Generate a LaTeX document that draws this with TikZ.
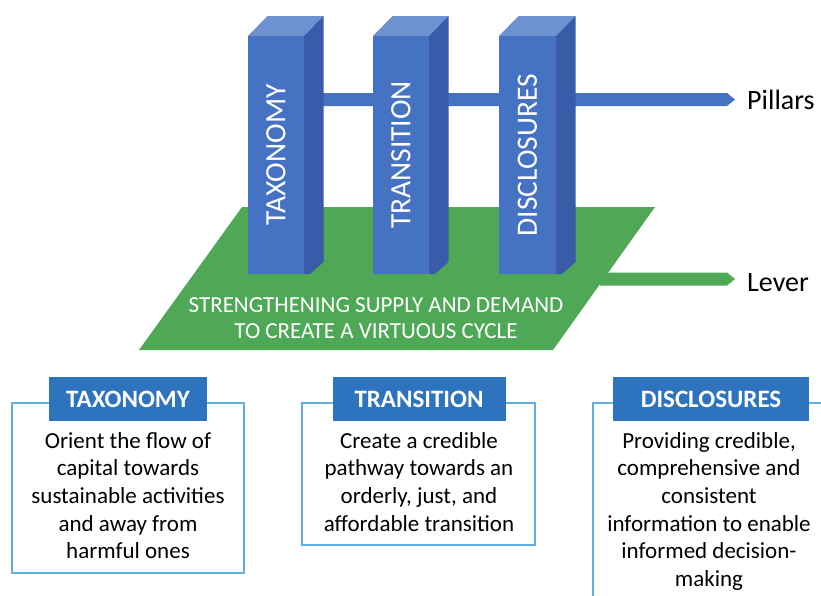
\documentclass[tikz,border=0pt]{standalone}
\usepackage{fontspec}
\setmainfont{Carlito}
\begin{document}
\begin{tikzpicture}[x=1pt,y=-1pt,
  pfront/.style={fill=pillarblue},
  pside/.style={fill=pillardark},
  ptop/.style={fill=pillarlight},
  pillartext/.style={text=white,rotate=90,font=\fontsize{29.5}{32}\selectfont,inner sep=0pt},
  sidelabel/.style={anchor=west,font=\fontsize{28}{32}\selectfont,inner sep=0pt},
  planetext/.style={text=white,align=center,font=\fontsize{23}{26.5}\selectfont,inner sep=0pt},
  header/.style={fill=headblue,text=white,font=\bfseries\fontsize{25}{30}\selectfont,minimum height=44pt,inner sep=0pt},
  infobox/.style={draw=boxline,line width=1.5pt},
  bodytext/.style={align=center,font=\fontsize{23}{27.7}\selectfont,inner sep=0pt,anchor=north}
]
\definecolor{pillarblue}{RGB}{70,114,196}
\definecolor{pillardark}{RGB}{58,91,168}
\definecolor{pillarlight}{RGB}{110,145,210}
\definecolor{planegreen}{RGB}{78,168,86}
\definecolor{headblue}{RGB}{46,115,190}
\definecolor{boxline}{RGB}{95,175,225}

\clip (0,0) rectangle (821,595);
\fill[white] (0,0) rectangle (821,595);

% horizontal pillar bar with its pointed end
\fill[pillarblue] (285,93) -- (727,93) -- (735,99.5) -- (727,106) -- (285,106) -- cycle;
\node[sidelabel] (pillars) at (747,100) {Pillars};

% green lever plane and its arrow
\fill[planegreen] (242,207) -- (655,207) -- (553,350) -- (139,350) -- cycle;
\fill[planegreen] (600,272.5) -- (727,272.5) -- (735,279) -- (727,285.5) -- (600,285.5) -- cycle;
\node[sidelabel] (lever) at (747,283) {Lever};

\node[planetext] (planetxt) at (376,318) {STRENGTHENING SUPPLY AND DEMAND\\TO CREATE A VIRTUOUS CYCLE};

% three extruded pillars
\foreach \xl/\xr/\lbl/\nm in {248/304/TAXONOMY/p1, 373/429/TRANSITION/p2, 499/556/DISCLOSURES/p3}{
  \pgfmathsetmacro{\xs}{\xr+19.5}
  \pgfmathsetmacro{\xb}{\xl+19.5}
  \fill[ptop] (\xl,36) -- (\xb,16) -- (\xs,16) -- (\xr,36) -- cycle;
  \fill[pside] (\xr,36) -- (\xs,16) -- (\xs,262) -- (\xr+6,274) -- (\xr,274) -- cycle;
  \fill[pfront] (\xl,36) rectangle (\xr,274);
  \node[pillartext] (\nm) at ({(\xl+\xr)/2},155) {\lbl};
}

% description boxes
\draw[infobox] (12,403) rectangle (244,573);
\node[header,minimum width=158pt] (h1) at (128,399) {TAXONOMY};
\node[bodytext] (b1) at (128,432) {Orient the flow of\\capital towards\\sustainable activities\\and away from\\harmful ones};

\draw[infobox] (302,403) rectangle (535,545);
\node[header,minimum width=173pt] (h2) at (419,399) {TRANSITION};
\node[bodytext] (b2) at (419,432) {Create a credible\\pathway towards an\\orderly, just, and\\affordable transition};

\draw[infobox] (593,403) rectangle (830,600);
\node[header,minimum width=196pt] (h3) at (711,399) {DISCLOSURES};
\node[bodytext] (b3) at (709,432) {Providing credible,\\comprehensive and\\consistent\\information to enable\\informed decision-\\making};
\end{tikzpicture}
\end{document}
